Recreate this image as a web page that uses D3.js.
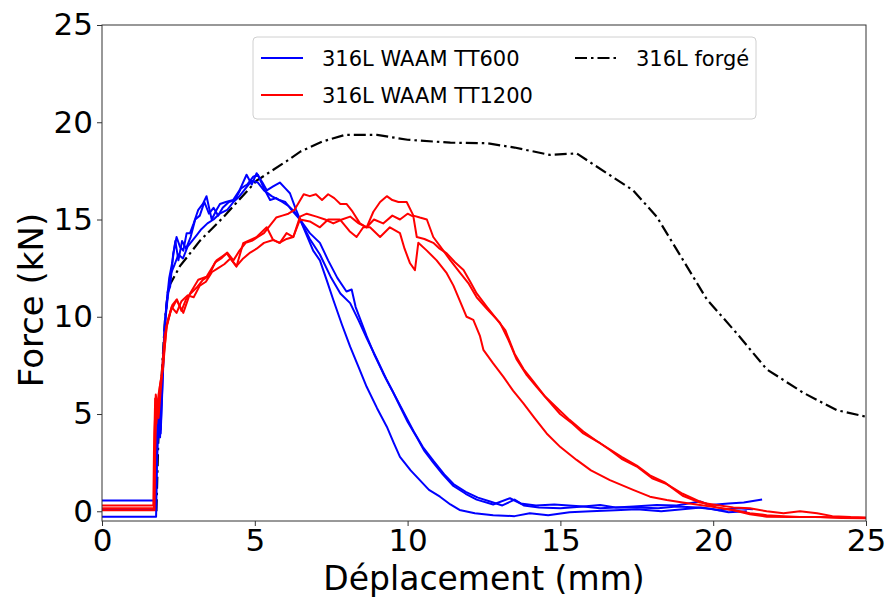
<!DOCTYPE html>
<html>
<head>
<meta charset="utf-8">
<script src="https://cdn.jsdelivr.net/npm/d3@7"></script>
<style>
  body { margin: 0; background: #fff; }
  svg text { font-family: "DejaVu Sans", sans-serif; }
</style>
</head>
<body>
<div id="chart"></div>
<script>
// tick values
const xTicks = [0, 5, 10, 15, 20, 25];
const yTicks = [0, 5, 10, 15, 20, 25];

// 316L WAAM TT600 (three specimens) - [displacement mm, force kN]
const tt600a = [[0,0.55],[1.76,0.55],[1.78,3],[1.84,5.5],[1.88,6.1],[1.92,4.0],[1.98,6.5],[2.06,9.8],[2.15,11.2],[2.23,11.55],[2.33,13.26],[2.44,14.1],[2.55,13.6],[2.66,13.4],[2.77,14.3],[2.88,14.3],[3.0,14.8],[3.15,15.5],[3.3,15.8],[3.42,16.2],[3.59,15.0],[3.75,15.5],[3.86,15.8],[4.05,15.9],[4.29,16.0],[4.5,16.5],[4.73,17.3],[4.9,16.8],[5.06,17.38],[5.25,16.9],[5.39,16.5],[5.6,16.7],[5.82,16.9],[6.0,16.6],[6.15,16.35],[6.35,15.5],[6.59,14.6],[6.91,13.4],[7.13,12.9],[7.35,11.9],[7.57,10.86],[7.85,9.6],[8.12,8.46],[8.4,7.4],[8.66,6.4],[9.0,5.3],[9.32,4.35],[9.55,3.5],[9.75,2.8],[10.1,2.1],[10.4,1.6],[10.7,1.1],[11.06,0.75],[11.4,0.35],[11.7,0.07],[12.2,-0.1],[12.8,-0.2],[13.5,-0.25],[14.0,-0.1],[14.6,-0.2],[15.3,-0.05],[16.0,0.0],[16.8,0.05],[17.5,0.1],[18.3,0.0],[19.0,0.1],[19.6,0.2],[20.2,0.05],[20.8,0.15],[21.3,0.1]];
const tt600b = [[0,-0.28],[1.77,-0.28],[1.8,2.5],[1.86,5.0],[1.92,4.2],[2.0,7.5],[2.1,10.5],[2.2,12.0],[2.3,12.8],[2.4,13.9],[2.5,12.9],[2.62,13.9],[2.75,13.5],[2.9,14.1],[3.05,15.0],[3.2,15.2],[3.35,15.9],[3.5,15.3],[3.65,15.6],[3.8,15.2],[3.95,15.6],[4.15,15.9],[4.35,16.0],[4.55,16.6],[4.75,16.8],[4.95,17.2],[5.1,17.3],[5.3,16.6],[5.5,16.0],[5.7,16.1],[5.9,15.9],[6.1,15.7],[6.3,15.4],[6.48,15.0],[6.8,14.3],[7.13,13.8],[7.4,12.9],[7.7,12.0],[8.0,11.3],[8.17,11.4],[8.3,10.5],[8.66,9.0],[8.9,8.1],[9.2,7.1],[9.5,6.2],[9.75,5.4],[10.0,4.6],[10.3,3.8],[10.55,3.1],[10.84,2.5],[11.15,1.9],[11.5,1.3],[11.9,0.9],[12.26,0.6],[12.8,0.35],[13.35,0.67],[13.7,0.4],[14.2,0.3],[14.8,0.35],[15.75,0.24],[16.3,0.15],[16.8,0.2],[17.4,0.25],[18.15,0.32],[18.8,0.3],[19.57,0.5],[19.9,0.32],[20.5,0.4],[21.0,0.45],[21.6,0.6]];
const tt600c = [[0,0.1],[1.76,0.1],[1.79,3.0],[1.85,5.8],[1.9,3.8],[1.96,6.8],[2.05,9.5],[2.15,11.0],[2.25,12.2],[2.38,12.7],[2.5,13.2],[2.65,13.0],[2.8,13.6],[2.95,13.9],[3.1,14.2],[3.25,14.5],[3.45,14.8],[3.65,15.0],[3.85,15.3],[4.1,15.5],[4.3,15.9],[4.5,16.2],[4.7,16.6],[4.9,17.0],[5.1,16.9],[5.3,16.5],[5.55,16.2],[5.8,16.0],[6.0,15.9],[6.2,15.5],[6.48,15.0],[6.8,14.0],[7.13,13.2],[7.5,12.0],[7.8,11.2],[8.12,10.7],[8.4,9.8],[8.66,8.9],[9.0,7.8],[9.3,6.8],[9.6,5.9],[9.9,5.0],[10.2,4.1],[10.5,3.3],[10.84,2.6],[11.2,1.9],[11.5,1.4],[11.9,1.0],[12.3,0.7],[12.7,0.5],[13.1,0.3],[13.5,0.6],[13.8,0.3],[14.3,0.2],[15.0,0.15],[15.75,0.24],[16.3,0.32],[16.8,0.2],[17.5,0.2],[18.2,0.15],[18.8,0.25],[19.5,0.2],[20.0,0.1],[20.5,-0.05],[21.1,0.0]];

// 316L WAAM TT1200 (three specimens)
const tt1200a = [[0,0.3],[1.68,0.3],[1.7,3],[1.74,5.8],[1.78,4.5],[1.85,6.0],[1.95,7.0],[2.05,9.0],[2.15,9.8],[2.3,10.6],[2.45,10.9],[2.6,10.3],[2.75,10.9],[2.9,11.2],[3.1,11.5],[3.3,11.9],[3.5,12.1],[3.7,12.8],[3.9,13.0],[4.1,13.3],[4.3,12.9],[4.5,13.4],[4.7,13.8],[4.9,13.9],[5.1,14.1],[5.3,14.3],[5.5,14.7],[5.7,15.1],[5.9,15.2],[6.1,15.3],[6.3,15.5],[6.45,15.9],[6.6,16.3],[6.8,16.2],[7.0,16.3],[7.2,16.0],[7.4,16.3],[7.6,16.1],[7.8,15.8],[8.0,15.8],[8.2,15.4],[8.44,14.8],[8.66,14.6],[8.88,15.4],[9.1,15.9],[9.32,16.2],[9.5,16.0],[9.7,15.9],[9.97,15.9],[10.19,15.2],[10.4,15.1],[10.63,15.0],[10.84,14.1],[11.17,13.4],[11.4,12.9],[11.7,12.3],[12.0,11.7],[12.26,11.0],[12.6,10.4],[13.02,9.7],[13.3,8.8],[13.57,7.8],[13.9,7.0],[14.22,6.4],[14.6,5.7],[14.99,5.0],[15.4,4.5],[15.75,4.0],[16.3,3.5],[16.62,3.15],[17.0,2.7],[17.5,2.3],[18.0,1.7],[18.48,1.4],[19.0,0.9],[19.57,0.5],[20.1,0.2],[20.66,0.07],[21.2,-0.1],[21.75,-0.2],[22.3,-0.25],[22.84,-0.3],[23.5,-0.3],[24.2,-0.35],[25,-0.36]];
const tt1200b = [[0,0.15],[1.7,0.15],[1.72,4],[1.76,6.0],[1.82,5.2],[1.9,6.5],[2.0,7.4],[2.11,9.5],[2.28,10.5],[2.44,10.2],[2.6,10.8],[2.8,11.1],[3.0,11.0],[3.2,11.6],[3.4,11.8],[3.6,12.3],[3.8,12.5],[4.0,12.7],[4.2,13.0],[4.4,12.6],[4.62,13.0],[4.85,13.3],[5.06,13.5],[5.3,13.8],[5.6,13.95],[5.8,13.8],[6.04,14.0],[6.26,14.1],[6.48,15.15],[6.7,15.3],[7.02,15.15],[7.3,15.0],[7.57,14.8],[7.85,15.0],[8.12,15.15],[8.4,14.8],[8.66,14.6],[8.9,15.0],[9.2,14.8],[9.5,15.2],[9.75,15.0],[10.0,15.3],[10.19,15.15],[10.3,14.1],[10.55,14.0],[10.84,13.8],[11.05,13.5],[11.28,13.26],[11.55,12.8],[11.83,12.4],[12.05,11.8],[12.26,11.2],[12.6,10.5],[12.9,9.9],[13.2,9.3],[13.5,8.1],[13.8,7.3],[14.1,6.7],[14.5,5.9],[14.9,5.3],[15.3,4.7],[15.75,4.1],[16.2,3.6],[16.6,3.2],[17.0,2.8],[17.5,2.35],[17.93,1.85],[18.4,1.5],[19.0,0.8],[19.57,0.45],[20.1,0.32],[20.66,0.2],[21.2,0.15],[21.75,0],[22.3,-0.1],[22.84,0],[23.4,-0.1],[23.9,-0.25],[24.5,-0.3],[25,-0.32]];
const tt1200c = [[0,0.05],[1.72,0.05],[1.74,3],[1.78,5.5],[1.85,4.8],[1.92,6.2],[2.02,8.0],[2.12,9.5],[2.25,10.3],[2.44,10.86],[2.66,10.2],[2.88,11.2],[3.15,11.9],[3.42,12.06],[3.75,12.9],[4.08,13.26],[4.4,12.58],[4.62,13.78],[5.06,14.1],[5.39,14.6],[5.6,13.95],[5.82,13.8],[6.04,14.3],[6.26,14.1],[6.48,15.0],[6.8,14.9],[7.13,14.6],[7.4,15.0],[7.79,15.0],[8.1,14.4],[8.33,14.1],[8.55,14.6],[8.77,14.6],[9.1,14.1],[9.42,14.6],[9.75,14.3],[9.9,13.5],[10.08,12.75],[10.24,12.4],[10.35,13.8],[10.63,13.4],[10.95,12.9],[11.28,12.24],[11.5,11.6],[11.7,10.86],[11.93,10.0],[12.15,9.84],[12.37,9.0],[12.48,8.3],[12.8,7.6],[13.13,6.92],[13.45,6.2],[13.79,5.55],[14.15,4.8],[14.55,4.0],[15.0,3.3],[15.53,2.64],[16.0,2.1],[16.62,1.6],[17.38,1.1],[17.93,0.75],[18.48,0.58],[19.0,0.45],[19.57,0.32],[20.1,0.2],[20.66,0.05],[21.2,-0.15],[21.75,-0.28],[22.5,-0.3],[23.3,-0.3],[24.2,-0.32],[25,-0.35]];

// 316L forgé
const forge = [[1.78,0],[1.84,3.5],[1.95,6.9],[2.06,9.8],[2.17,11.5],[2.55,12.6],[3.2,13.9],[3.96,15.1],[5.06,17.0],[6.04,18.0],[6.5,18.5],[7.2,19.0],[7.95,19.35],[9.0,19.35],[10.0,19.1],[11.4,18.95],[12.6,18.92],[13.5,18.7],[14.66,18.32],[15.53,18.4],[16.5,17.4],[17.38,16.5],[18.15,15.15],[19.02,12.9],[19.79,10.9],[20.77,9.15],[21.75,7.3],[22.94,6.1],[24.04,5.2],[25,4.86]];

const W = 885, H = 601;
const margins = { top: 25, right: 19, bottom: 80, left: 102 };
const plotW = W - margins.left - margins.right;
const plotH = H - margins.top - margins.bottom;

const svg = d3.select("#chart").append("svg")
    .attr("width", W)
    .attr("height", H);

const g = svg.append("g")
    .attr("transform", "translate(" + margins.left + "," + margins.top + ")");

const x = d3.scaleLinear().domain([0, 25]).range([0, plotW]);
const y = d3.scaleLinear().domain([-0.5, 25]).range([plotH, 0]);

g.append("clipPath").attr("id", "clip")
    .append("rect").attr("width", plotW).attr("height", plotH);

const line = d3.line().x(d => x(d[0])).y(d => y(d[1]));

const series = [
    { data: tt600a, color: "#0000ff" },
    { data: tt600b, color: "#0000ff" },
    { data: tt600c, color: "#0000ff" },
    { data: tt1200a, color: "#ff0000" },
    { data: tt1200b, color: "#ff0000" },
    { data: tt1200c, color: "#ff0000" }
];

const lines = g.append("g").attr("clip-path", "url(#clip)");

// forgé drawn first, curves over it
lines.append("path")
    .attr("d", line(forge))
    .attr("fill", "none")
    .attr("stroke", "#000")
    .attr("stroke-width", 2.2)
    .attr("stroke-dasharray", "12,4,2.5,4");

series.forEach(s => {
    lines.append("path")
        .attr("d", line(s.data))
        .attr("fill", "none")
        .attr("stroke", s.color)
        .attr("stroke-width", 2)
        .attr("stroke-linejoin", "round");
});

// axes
const xAxis = g.append("g")
    .attr("transform", "translate(0," + plotH + ")")
    .call(d3.axisBottom(x).tickValues(xTicks).tickSize(5).tickPadding(3));
const yAxis = g.append("g")
    .call(d3.axisLeft(y).tickValues(yTicks).tickSize(5).tickPadding(4));

[xAxis, yAxis].forEach(a => {
    a.select(".domain").remove();
    a.selectAll("text").style("font-size", "31px").attr("fill", "#000");
    a.selectAll("line").attr("stroke", "#333");
});

// frame
g.append("rect")
    .attr("width", plotW)
    .attr("height", plotH)
    .attr("fill", "none")
    .attr("stroke", "#333")
    .attr("stroke-width", 1);

// axis labels
svg.append("text")
    .attr("x", margins.left + plotW / 2)
    .attr("y", 590)
    .attr("text-anchor", "middle")
    .style("font-size", "33px")
    .text("Déplacement (mm)");

svg.append("text")
    .attr("transform", "rotate(-90)")
    .attr("x", -300)
    .attr("y", 43)
    .attr("text-anchor", "middle")
    .style("font-size", "34px")
    .text("Force (kN)");

// legend
const legend = svg.append("g").attr("transform", "translate(253,37)");
legend.append("rect")
    .attr("width", 503)
    .attr("height", 82)
    .attr("rx", 4)
    .attr("fill", "#fff")
    .attr("fill-opacity", 0.8)
    .attr("stroke", "#d0d0d0");

const legendItems = [
    { label: "316L WAAM TT600", color: "#0000ff", dash: null, lx: 8, ly: 21 },
    { label: "316L WAAM TT1200", color: "#ff0000", dash: null, lx: 8, ly: 58 },
    { label: "316L forgé", color: "#000", dash: "12,4,2.5,4", lx: 322, ly: 21 }
];

legendItems.forEach(d => {
    legend.append("line")
        .attr("x1", d.lx).attr("x2", d.lx + 42)
        .attr("y1", d.ly).attr("y2", d.ly)
        .attr("stroke", d.color)
        .attr("stroke-width", 2)
        .attr("stroke-dasharray", d.dash);
    legend.append("text")
        .attr("x", d.lx + 61)
        .attr("y", d.ly + 7.5)
        .style("font-size", "21px")
        .text(d.label);
});
</script>
</body>
</html>
